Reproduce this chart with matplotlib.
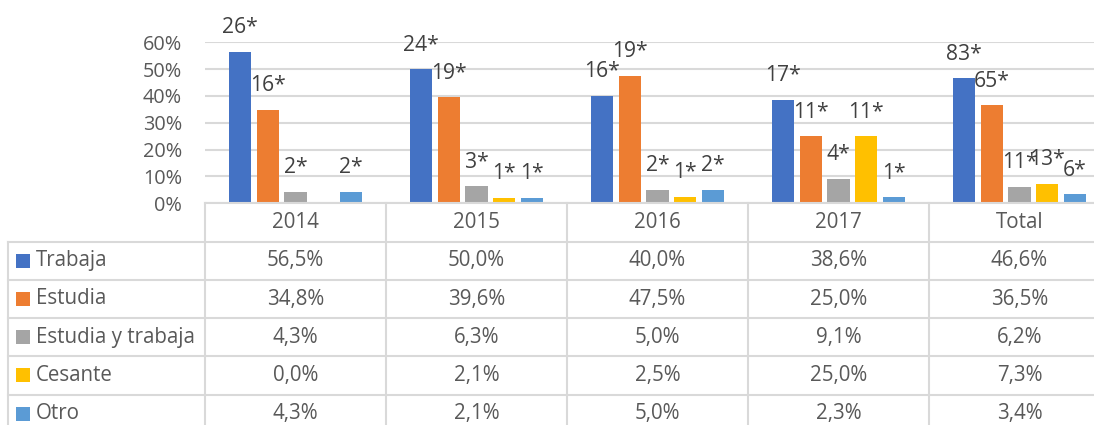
import matplotlib
matplotlib.use("Agg")
import matplotlib.pyplot as plt
import numpy as np

# data
categories = ["2014", "2015", "2016", "2017", "Total"]
series = ["Trabaja", "Estudia", "Estudia y trabaja", "Cesante", "Otro"]
trabaja = [56.5, 50.0, 40.0, 38.6, 46.6]
estudia = [34.8, 39.6, 47.5, 25.0, 36.5]
estudia_trabaja = [4.3, 6.3, 5.0, 9.1, 6.2]
cesante = [0.0, 2.1, 2.5, 25.0, 7.3]
otro = [4.3, 2.1, 5.0, 2.3, 3.4]
n_trabaja = [26, 24, 16, 17, 83]
n_estudia = [16, 19, 19, 11, 65]
n_estudia_trabaja = [2, 3, 2, 4, 11]
n_cesante = [0, 1, 1, 11, 13]
n_otro = [2, 1, 2, 1, 6]
yticks = [0, 10, 20, 30, 40, 50, 60]

values = [trabaja, estudia, estudia_trabaja, cesante, otro]
counts = [n_trabaja, n_estudia, n_estudia_trabaja, n_cesante, n_otro]
colors = ["#4472C4", "#ED7D31", "#A5A5A5", "#FFC000", "#5B9BD5"]

plt.rcParams["font.family"] = ["Open Sans", "DejaVu Sans"]
TXT = "#595959"
GRID = "#D9D9D9"
FS = 14.8

W, H = 1094, 425
fig = plt.figure(figsize=(W / 100, H / 100), dpi=100)

# plot area in pixels (the last column runs past the right edge)
x0, colw = 205, 181
ytop, ybot = 42.3, 203.3
ax = fig.add_axes([x0 / W, 1 - ybot / H, 5 * colw / W, (ybot - ytop) / H])

x = np.arange(len(categories))
step, bw = 0.153, 0.122
for j, (vals, ns, c) in enumerate(zip(values, counts, colors)):
    xs = x + (j - 2) * step
    frac = [v / 100 for v in vals]
    ax.bar(xs, frac, width=bw, color=c, linewidth=0, zorder=3)
    for xi, fi, n in zip(xs, frac, ns):
        if n:
            ax.annotate(f"{n}*", (xi, fi), xytext=(0, 13.3), textcoords="offset points",
                        ha="center", va="baseline", fontsize=15.2, color="#404040",
                        zorder=4)

ax.set_xlim(-0.5, len(categories) - 0.5)
ax.set_ylim(0, 0.6)
ax.set_yticks([t / 100 for t in yticks])
ax.set_yticklabels([f"{t}%" for t in yticks], fontsize=14.3, color=TXT)
ax.tick_params(axis="y", length=0, pad=16.5)
ax.set_xticks([])
ax.grid(axis="y", color=GRID, linewidth=1.5, zorder=0)
for s in ax.spines.values():
    s.set_visible(False)

# data table drawn in pixel coordinates
tab = fig.add_axes([0, 0, 1, 1])
tab.set_xlim(0, W)
tab.set_ylim(H, 0)
tab.axis("off")
rowh = 38.2
hdr_bot = 241.7
xend = x0 + 5 * colw
bottom = hdr_bot + rowh * len(series)

tab.plot([x0, xend], [ybot, ybot], color=GRID, lw=1.5, clip_on=False)
for i in range(len(categories) + 1):
    xc = x0 + i * colw
    tab.plot([xc, xc], [ybot, bottom], color=GRID, lw=1.5, clip_on=False)
tab.plot([8, 8], [hdr_bot, bottom], color=GRID, lw=1.5, clip_on=False)
for r in range(len(series) + 1):
    yr = hdr_bot + r * rowh
    tab.plot([8, xend], [yr, yr], color=GRID, lw=1.5, clip_on=False)

for i, cat in enumerate(categories):
    tab.text(x0 + (i + 0.5) * colw, (ybot + hdr_bot) / 2, cat, ha="center",
             va="center", fontsize=FS, color=TXT)

for r, (name, vals, c) in enumerate(zip(series, values, colors)):
    yc = hdr_bot + (r + 0.5) * rowh
    tab.add_patch(plt.Rectangle((16, yc - 7), 14, 14, color=c, lw=0))
    tab.text(36, yc, name, ha="left", va="center", fontsize=FS, color=TXT)
    for i, v in enumerate(vals):
        tab.text(x0 + (i + 0.5) * colw, yc, f"{v:.1f}%".replace(".", ","),
                 ha="center", va="center", fontsize=FS, color=TXT)

fig.savefig("out.png", dpi=100)
